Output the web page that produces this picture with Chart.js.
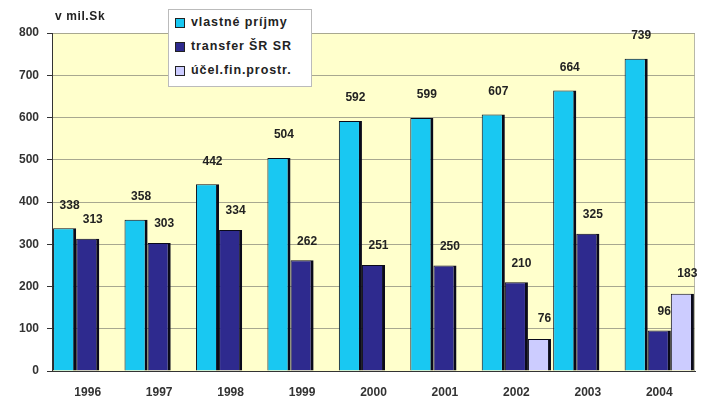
<!DOCTYPE html>
<html>
<head>
<meta charset="utf-8">
<script src="https://cdn.jsdelivr.net/npm/chart.js@4"></script>
<style>
  html, body { margin: 0; padding: 0; background: #fff; }
  #wrap { position: relative; width: 702px; height: 405px; }
  #unit { position: absolute; left: 55px; top: 9px; font: bold 12px "Liberation Sans", Arial, sans-serif; letter-spacing: 0.6px; color: #222; }
  #legend { position: absolute; left: 168px; top: 9px; width: 144px; height: 78px; box-sizing: border-box;
            background: #fff; border: 1px solid #bbb; padding: 5px 0 0 6px;
            font: bold 12.5px "Liberation Sans", Arial, sans-serif; letter-spacing: 0.9px; color: #222; white-space: nowrap; }
  #legend div { height: 24px; line-height: 15px; display: flex; align-items: flex-start; }
  #legend span.box { display: inline-block; flex: none; width: 8px; height: 8px; border: 1px solid #222; margin: 3px 6px 0 0; }
</style>
</head>
<body>
<div id="wrap">
  <canvas id="chart" width="702" height="405"></canvas>
  <div id="unit">v mil.Sk</div>
  <div id="legend"></div>
</div>
<script>
// 年
const years = ['1996', '1997', '1998', '1999', '2000', '2001', '2002', '2003', '2004'];
// 系列ごとの値
const vlastnePrijmy = [338, 358, 442, 504, 592, 599, 607, 664, 739];
const transferSR = [313, 303, 334, 262, 251, 250, 210, 325, 96];
const ucelFin = [null, null, null, null, null, null, 76, null, 183];
const seriesNames = ['vlastné príjmy', 'transfer ŠR SR', 'účel.fin.prostr.'];
const seriesColors = ['#19C8F2', '#2E2A8E', '#CCCCFF'];
const yTicks = [0, 100, 200, 300, 400, 500, 600, 700, 800];

// 凡例（HTML）
const legendEl = document.getElementById('legend');
seriesNames.forEach((name, i) => {
    const row = document.createElement('div');
    const box = document.createElement('span');
    box.className = 'box';
    box.style.background = seriesColors[i];
    row.appendChild(box);
    row.appendChild(document.createTextNode(name));
    legendEl.appendChild(row);
});

// プロット領域の背景
const plotBg = {
    id: 'plotBg',
    beforeDraw(chart) {
        const { ctx, chartArea: a } = chart;
        ctx.save();
        ctx.fillStyle = '#FFFFCC';
        ctx.fillRect(a.left, a.top, a.right - a.left, a.bottom - a.top);
        ctx.strokeStyle = '#B8B8A8';
        ctx.lineWidth = 1;
        ctx.strokeRect(a.left + 0.5, a.top + 0.5, a.right - a.left - 1, a.bottom - a.top);
        ctx.restore();
    }
};

// 値ラベル（系列ごとに少しずらす）
const labelLift = [23, 19, 20];
const valueLabels = {
    id: 'valueLabels',
    afterDatasetsDraw(chart) {
        const { ctx } = chart;
        ctx.save();
        ctx.font = 'bold 12px "Liberation Sans", Arial, sans-serif';
        ctx.fillStyle = '#222';
        ctx.textAlign = 'center';
        ctx.textBaseline = 'middle';
        chart.data.datasets.forEach((ds, di) => {
            chart.getDatasetMeta(di).data.forEach((el, i) => {
                const v = ds.data[i];
                if (v == null) return;
                ctx.fillText(String(v), el.x + 5, el.y - labelLift[di]);
            });
        });
        ctx.restore();
    }
};

const datasets = seriesNames.map((name, i) => ({
    label: name,
    data: [vlastnePrijmy, transferSR, ucelFin][i],
    backgroundColor: seriesColors[i],
    borderColor: '#0A0A1A',
    borderWidth: { top: 1, right: 3, left: 1, bottom: 0 },
    borderSkipped: false,
    categoryPercentage: 0.97,
    barPercentage: 1.0
}));

const tickFont = { family: '"Liberation Sans", Arial, sans-serif', size: 12, weight: 'bold' };

new Chart(document.getElementById('chart').getContext('2d'), {
    type: 'bar',
    data: { labels: years, datasets },
    plugins: [plotBg, valueLabels],
    options: {
        responsive: false,
        animation: false,
        layout: { padding: { top: 33, right: 7, left: 0, bottom: 0 } },
        plugins: { legend: { display: false }, tooltip: { enabled: false } },
        scales: {
            x: {
                grid: { display: false },
                border: { color: '#333', width: 1 },
                ticks: { color: '#333', font: tickFont, padding: 6 },
                afterFit(scale) { scale.height = 34; }
            },
            y: {
                min: 0,
                max: 800,
                afterBuildTicks(scale) { scale.ticks = yTicks.map(v => ({ value: v })); },
                grid: { color: '#A8A890', tickLength: 5, tickColor: '#333' },
                border: { color: '#333', width: 1 },
                ticks: { color: '#333', font: tickFont, padding: 8 },
                afterFit(scale) { scale.width = 52; }
            }
        }
    }
});
</script>
</body>
</html>
